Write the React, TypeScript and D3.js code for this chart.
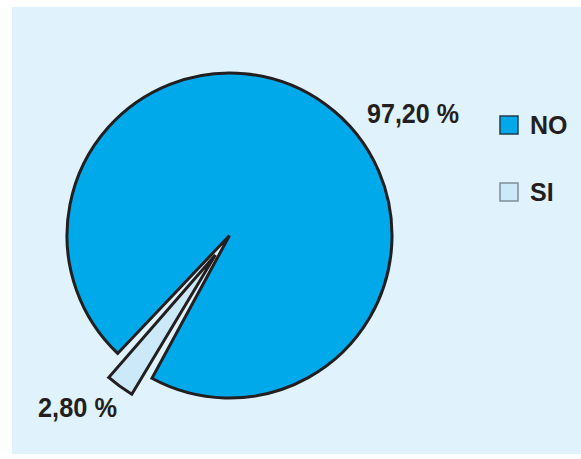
import React from 'react';
import * as d3 from 'd3';

const categories = ['NO', 'SI'];
const values = [97.2, 2.8];
const valueLabels = ['97,20 %', '2,80 %'];
const colors = ['#00A9EA', '#CBE9F9'];
const legendBorders = ['#1F3E4E', '#7D8E98'];

export default function App() {
  const W = 581;
  const H = 459;
  const cx = 229.5;
  const cy = 235.5;
  const r = 162.5;
  const siMid = (216 * Math.PI) / 180;
  const total = d3.sum(values);
  const siSpan = (values[1] / total) * 2 * Math.PI;
  const start = siMid + siSpan / 2;
  const pie = d3
    .pie<number>()
    .sort(null)
    .value((d) => d)
    .startAngle(start)
    .endAngle(start + 2 * Math.PI);
  const arcs = pie(values);
  const arcNO = d3.arc<d3.PieArcDatum<number>>().innerRadius(0).outerRadius(r).padAngle(0.085);
  const arcSI = d3.arc<d3.PieArcDatum<number>>().innerRadius(0).outerRadius(r);
  const explode = 24;
  const ex = explode * Math.sin(siMid);
  const ey = -explode * Math.cos(siMid);

  const font = "'Liberation Sans', Arial, Helvetica, sans-serif";
  const ink = '#231F20';

  return (
    <svg width={W} height={H} style={{ position: 'absolute', left: 0, top: 0 }}>
      <rect x={0} y={0} width={W} height={H} fill="#ffffff" />
      <rect x={12} y={7} width={W - 12} height={447} fill="#E0F2FC" />
      <g transform={`translate(${cx},${cy})`}>
        <path
          d={arcNO({ ...arcs[0], padAngle: 0.085 }) || ''}
          fill={colors[0]}
          stroke={ink}
          strokeWidth={3}
          strokeLinejoin="miter"
        />
        <g transform={`translate(${ex},${ey})`}>
          <path d={arcSI({ ...arcs[1], padAngle: 0 }) || ''} fill={colors[1]} stroke={ink} strokeWidth={3} />
        </g>
      </g>
      <text x={367} y={123} fontFamily={font} fontWeight="bold" fontSize={27} fill={ink} textLength={92} lengthAdjust="spacingAndGlyphs">
        {valueLabels[0]}
      </text>
      <text x={38} y={417} fontFamily={font} fontWeight="bold" fontSize={27} fill={ink} textLength={79} lengthAdjust="spacingAndGlyphs">
        {valueLabels[1]}
      </text>
      {categories.map((c, i) => (
        <g key={c} transform={`translate(0,${i * 67})`}>
          <rect x={500} y={116} width={18} height={18} fill={colors[i]} stroke={legendBorders[i]} strokeWidth={1.5} />
          <text x={530} y={134} fontFamily={font} fontWeight="bold" fontSize={25} fill={ink}>
            {c}
          </text>
        </g>
      ))}
    </svg>
  );
}
